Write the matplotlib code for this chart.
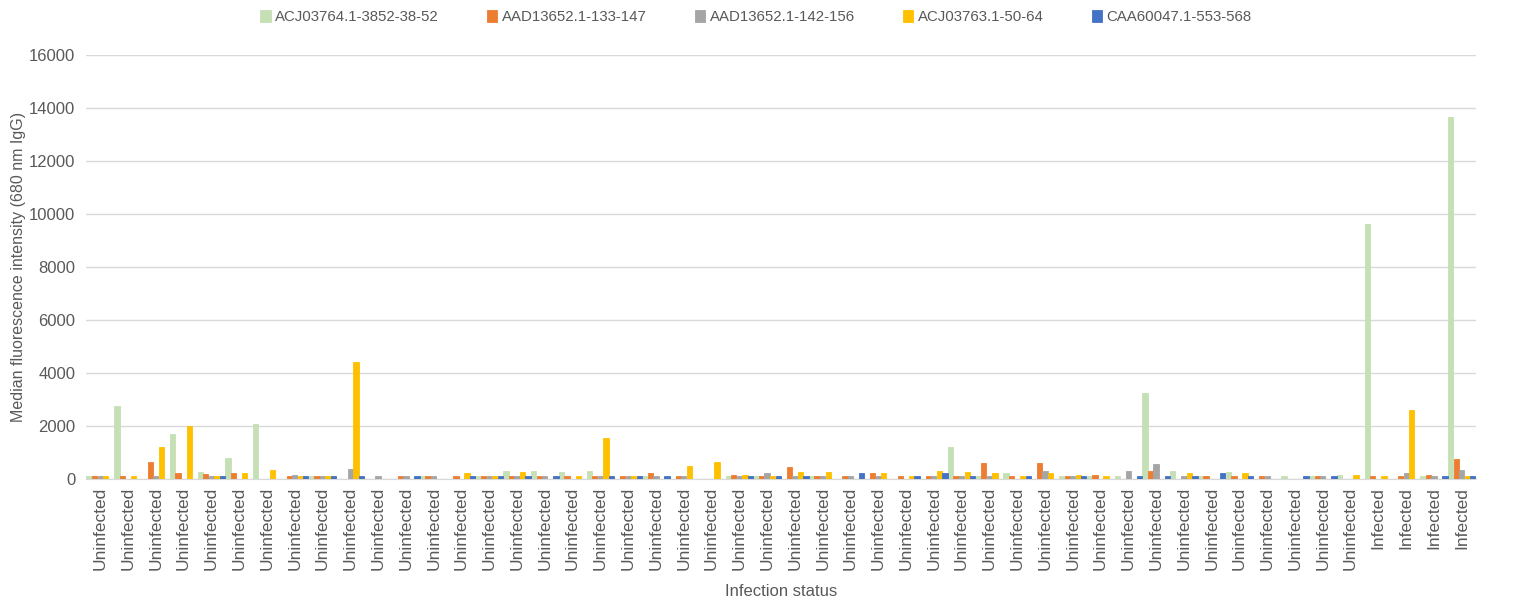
import numpy as np
import matplotlib.pyplot as plt

# Datos (mediana de fluorescencia por muestra)
labels = ["Uninfected"] * 46 + ["Infected"] * 4

series_names = ["ACJ03764.1-3852-38-52", "AAD13652.1-133-147", "AAD13652.1-142-156",
                "ACJ03763.1-50-64", "CAA60047.1-553-568"]
colors = ["#C5E0B4", "#ED7D31", "#A5A5A5", "#FFC000", "#4472C4"]

acj03764 = [120, 2750, 0, 1700, 250, 800, 2050, 0, 120, 0,
            0, 0, 120, 0, 120, 300, 300, 250, 300, 0,
            120, 0, 0, 120, 120, 0, 120, 0, 0, 0,
            0, 1200, 120, 200, 0, 120, 120, 120, 3250, 300,
            120, 250, 0, 120, 120, 150, 9600, 0, 120, 13650]
aad13652_133 = [120, 120, 650, 220, 170, 200, 0, 120, 120, 0,
                0, 120, 120, 120, 120, 120, 120, 120, 120, 120,
                200, 120, 0, 160, 120, 450, 120, 120, 230, 120,
                120, 120, 600, 120, 600, 120, 160, 0, 300, 0,
                120, 120, 120, 0, 120, 0, 120, 120, 150, 750]
aad13652_142 = [120, 0, 120, 0, 120, 0, 0, 150, 120, 380,
                120, 120, 120, 0, 120, 120, 120, 0, 120, 120,
                120, 120, 0, 120, 200, 120, 120, 120, 120, 0,
                120, 120, 120, 0, 300, 120, 0, 300, 550, 120,
                0, 0, 120, 0, 120, 0, 0, 200, 120, 350]
acj03763 = [120, 120, 1200, 2000, 120, 200, 330, 120, 120, 4400,
            0, 0, 0, 200, 120, 250, 0, 120, 1550, 120,
            0, 500, 650, 160, 120, 250, 250, 0, 230, 120,
            280, 260, 200, 120, 200, 160, 120, 0, 0, 200,
            0, 200, 0, 0, 0, 150, 120, 2600, 0, 120]
caa60047 = [0, 0, 0, 0, 120, 0, 0, 120, 120, 120,
            0, 120, 0, 120, 120, 120, 120, 0, 120, 120,
            120, 0, 0, 120, 120, 120, 0, 200, 0, 120,
            200, 120, 0, 120, 0, 120, 0, 120, 120, 120,
            200, 120, 0, 120, 120, 0, 0, 0, 120, 120]

data = [acj03764, aad13652_133, aad13652_142, acj03763, caa60047]

plt.rcParams['font.family'] = ['Liberation Sans', 'DejaVu Sans']
txt = "#595959"

fig = plt.figure(figsize=(15.15, 6.03), dpi=100)
ax = fig.add_axes([0.057, 0.206, 0.917, 0.703])

x = np.arange(len(labels))
w = 0.2
for i, (vals, name, col) in enumerate(zip(data, series_names, colors)):
    ax.bar(x + (i - 2) * w, vals, width=w * 0.95, color=col, edgecolor=col,
           linewidth=0.6, label=name, zorder=3)

ax.set_xlim(-0.5, len(labels) - 0.5)
ax.set_ylim(0, 16000)
ax.set_yticks(np.arange(0, 16001, 2000))
ax.yaxis.grid(True, color="#D9D9D9", linewidth=1, zorder=0)
ax.set_xticks(x)
ax.set_xticklabels(labels, rotation=90, fontsize=12.5, color=txt)
ax.tick_params(axis='y', labelsize=12, colors=txt, length=0, pad=8)
ax.tick_params(axis='x', length=0, pad=6)
for s in ["top", "right", "left"]:
    ax.spines[s].set_visible(False)
ax.spines["bottom"].set_color("#D9D9D9")

ax.set_ylabel("Median fluorescence intensity (680 nm IgG)", fontsize=11.5, color=txt, labelpad=2)
ax.set_xlabel("Infection status", fontsize=12, color=txt, labelpad=10)

leg = ax.legend(loc="center", bbox_to_anchor=(0.482, 1.089), ncol=5, frameon=False,
                fontsize=10.8, handlelength=0.7, handleheight=0.9, columnspacing=3.2,
                handletextpad=0.3)
for t in leg.get_texts():
    t.set_color(txt)

fig.savefig("out.png", dpi=100)
